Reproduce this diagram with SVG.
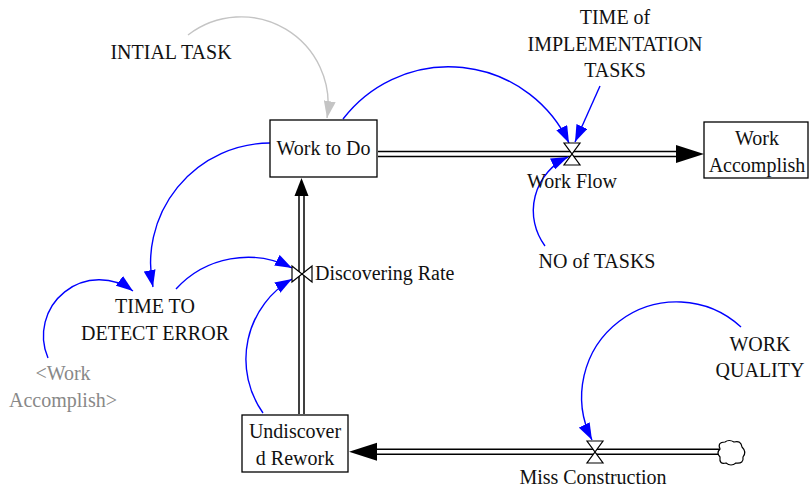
<svg xmlns="http://www.w3.org/2000/svg" width="809" height="488" viewBox="0 0 809 488">
  <defs>
    <style>
      text { font-family: "Liberation Serif", Tinos, "Times New Roman", "DejaVu Serif", "Noto Serif", serif; font-size: 20px; fill: #111; }
      .mid { text-anchor: middle; }
      .shadow { fill: #888; }
      .box { fill: #fff; stroke: #000; stroke-width: 1.3; }
      .link { fill: none; stroke: #0000ff; stroke-width: 1.4; marker-end: url(#blueHead); }
      .glink { fill: none; stroke: #c4c4c4; stroke-width: 1.4; marker-end: url(#grayHead); }
      .pipeOuter { fill: none; stroke: #000; stroke-width: 6.5; }
      .pipeInner { fill: none; stroke: #fff; stroke-width: 3.5; }
      .valve { fill: #fff; stroke: #000; stroke-width: 1.2; }
      .head { fill: #000; }
    </style>
    <marker id="blueHead" markerUnits="userSpaceOnUse" markerWidth="18" markerHeight="12" refX="17" refY="6" orient="auto">
      <path d="M0,0 L17,6 L0,12 z" fill="#0000ff"/>
    </marker>
    <marker id="grayHead" markerUnits="userSpaceOnUse" markerWidth="18" markerHeight="12" refX="17" refY="6" orient="auto">
      <path d="M0,0 L17,6 L0,12 z" fill="#c4c4c4"/>
    </marker>
  </defs>

  <!-- material flows (pipes) -->
  <g id="flows">
    <path class="pipeOuter" d="M378,154 L678,154"/>
    <path class="pipeInner" d="M377,154 L679,154"/>
    <polygon class="head" points="676,145 704,154 676,163"/>

    <path class="pipeOuter" d="M301.5,414 L301.5,194"/>
    <path class="pipeInner" d="M301.5,415 L301.5,193"/>
    <polygon class="head" points="294.5,196 301.5,178 308.5,196"/>

    <path class="pipeOuter" d="M719,451.7 L375,451.7"/>
    <path class="pipeInner" d="M720,451.7 L374,451.7"/>
    <polygon class="head" points="377,442.7 349,451.7 377,460.7"/>

    <!-- source cloud -->
    <path d="M720,449 q-3,-7 5,-7 q4,-3 9,0 q7,-2 8,5 q5,5 1,10 q1,7 -7,6 q-5,4 -10,0 q-7,2 -6,-6 q-4,-4 0,-8 z" fill="#fff" stroke="#000" stroke-width="1.2"/>
  </g>

  <!-- causal links -->
  <g id="connectors">
    <path class="link" d="M343,119 A133,133 0 0 1 569,143"/>
    <path class="link" d="M600,86 L575,142"/>
    <path class="link" d="M545,246 A59,59 0 0 1 568,157"/>
    <path class="link" d="M270,143 A120,120 0 0 0 153,287"/>
    <path class="link" d="M48,358 A56,56 0 0 1 133,291"/>
    <path class="link" d="M176,289 A97,97 0 0 1 292,268"/>
    <path class="link" d="M263,413 A93,93 0 0 1 292,279"/>
    <path class="link" d="M741,327 A95,95 0 0 0 592,440"/>
    <path class="glink" d="M188,35 A87,87 0 0 1 327,118"/>
  </g>

  <!-- stocks -->
  <g id="work-to-do">
    <rect class="box" x="270" y="120" width="107" height="57"/>
    <text class="mid" x="323.5" y="155">Work to Do</text>
  </g>
  <g id="work-accomplish">
    <rect class="box" x="704" y="122" width="104" height="56"/>
    <text class="mid" x="757" y="145">Work</text>
    <text class="mid" x="757" y="172">Accomplish</text>
  </g>
  <g id="undiscovered-rework">
    <rect class="box" x="242" y="415" width="106" height="57"/>
    <text class="mid" x="295" y="438">Undiscover</text>
    <text class="mid" x="295" y="465">d Rework</text>
  </g>

  <!-- rates -->
  <g id="work-flow">
    <path class="valve" d="M564,143 L580,143 L564,165 L580,165 Z"/>
    <text class="mid" x="572" y="188">Work Flow</text>
  </g>
  <g id="discovering-rate">
    <path class="valve" d="M292,266 L292,282 L312,266 L312,282 Z"/>
    <text x="315" y="280">Discovering Rate</text>
  </g>
  <g id="miss-construction">
    <path class="valve" d="M587,441 L603,441 L587,463 L603,463 Z"/>
    <text class="mid" x="593" y="484">Miss Construction</text>
  </g>

  <!-- auxiliaries -->
  <g id="time-of-implementation-tasks">
    <text class="mid" x="615" y="24">TIME of</text>
    <text class="mid" x="615" y="51">IMPLEMENTATION</text>
    <text class="mid" x="615" y="77">TASKS</text>
  </g>
  <g id="no-of-tasks">
    <text class="mid" x="597" y="268">NO of TASKS</text>
  </g>
  <g id="intial-task">
    <text class="mid" x="171" y="59">INTIAL TASK</text>
  </g>
  <g id="time-to-detect-error">
    <text class="mid" x="155" y="313">TIME TO</text>
    <text class="mid" x="155" y="340">DETECT ERROR</text>
  </g>
  <g id="work-accomplish-shadow">
    <text class="mid shadow" x="63" y="380">&lt;Work</text>
    <text class="mid shadow" x="63" y="407">Accomplish&gt;</text>
  </g>
  <g id="work-quality">
    <text class="mid" x="760" y="351">WORK</text>
    <text class="mid" x="760" y="377">QUALITY</text>
  </g>
</svg>
